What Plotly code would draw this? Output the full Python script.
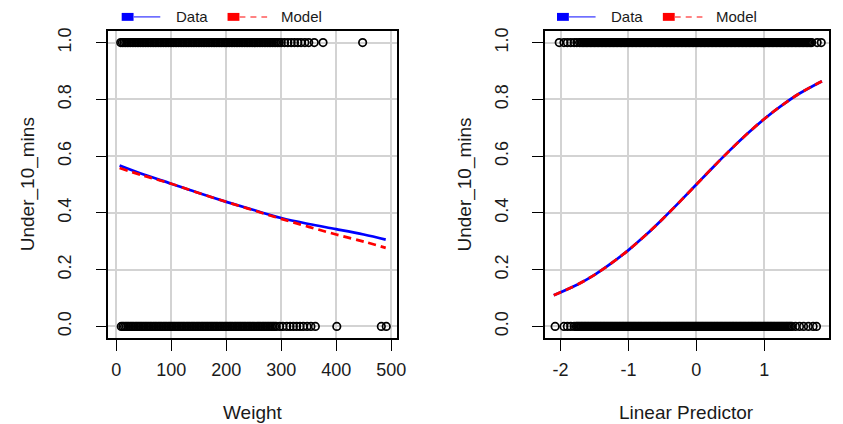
import plotly.graph_objects as go

# ---------------- data ----------------
# Left panel: Weight vs Under_10_mins (observations at 1 and 0)
weight_pass = [8, 11, 14, 17, 20, 23, 26, 29, 32, 35, 38, 41, 44, 47, 50, 53, 56, 59, 62, 65, 68, 71, 74, 77, 80,
               83, 86, 89, 92, 95, 98, 101, 104, 107, 110, 113, 116, 119, 122, 125, 128, 131, 134, 137, 140, 143,
               146, 149, 152, 155, 158, 161, 164, 167, 170, 173, 176, 179, 182, 185, 188, 191, 194, 197, 200, 203,
               206, 209, 212, 215, 218, 221, 224, 227, 230, 233, 236, 239, 242, 245, 248, 251, 254, 257, 260, 263,
               266, 269, 272, 275, 278, 281, 284, 287, 290, 293, 296,
               300, 306, 312, 318, 324, 330, 336, 343, 350, 360, 376, 448]
weight_fail = [9, 12, 15, 18, 21, 24, 27, 30, 33, 36, 39, 42, 45, 48, 51, 54, 57, 60, 63, 66, 69, 72, 75, 78, 81,
               84, 87, 90, 93, 96, 99, 102, 105, 108, 111, 114, 117, 120, 123, 126, 129, 132, 135, 138, 141, 144,
               147, 150, 153, 156, 159, 162, 165, 168, 171, 174, 177, 180, 183, 186, 189, 192, 195, 198, 201, 204,
               207, 210, 213, 216, 219, 222, 225, 228, 231, 234, 237, 240, 243, 246, 249, 252, 255, 258, 261, 264,
               267, 270, 273, 276, 279, 282, 285, 288, 291,
               297, 303, 310, 316, 322, 328, 334, 340, 347, 354, 362, 401, 482, 491]

# Left panel fitted curves
fit_weight = [6, 50, 100, 150, 200, 250, 300, 350, 400, 450, 490]
fit_weight_data = [0.567, 0.535, 0.503, 0.470, 0.439, 0.410, 0.382, 0.361, 0.343, 0.324, 0.306]
fit_weight_model = [0.558, 0.531, 0.503, 0.470, 0.439, 0.409, 0.379, 0.351, 0.324, 0.299, 0.277]

# Right panel: Linear Predictor vs Under_10_mins
lp_pass = [-2.02, -1.95, -1.90, -1.85, -1.80, -1.76, -1.72,
           -1.70, -1.68, -1.66, -1.64, -1.62, -1.60, -1.58, -1.56, -1.54, -1.52,
           -1.50, -1.48, -1.46, -1.44, -1.42, -1.40, -1.38, -1.36, -1.34, -1.32,
           -1.30, -1.28, -1.26, -1.24, -1.22, -1.20, -1.18, -1.16, -1.14, -1.12,
           -1.10, -1.08, -1.06, -1.04, -1.02, -1.00, -0.98, -0.96, -0.94, -0.92,
           -0.90, -0.88, -0.86, -0.84, -0.82, -0.80, -0.78, -0.76, -0.74, -0.72,
           -0.70, -0.68, -0.66, -0.64, -0.62, -0.60, -0.58, -0.56, -0.54, -0.52,
           -0.50, -0.48, -0.46, -0.44, -0.42, -0.40, -0.38, -0.36, -0.34, -0.32,
           -0.30, -0.28, -0.26, -0.24, -0.22, -0.20, -0.18, -0.16, -0.14, -0.12,
           -0.10, -0.08, -0.06, -0.04, -0.02, 0.00, 0.02, 0.04, 0.06, 0.08,
           0.10, 0.12, 0.14, 0.16, 0.18, 0.20, 0.22, 0.24, 0.26, 0.28,
           0.30, 0.32, 0.34, 0.36, 0.38, 0.40, 0.42, 0.44, 0.46, 0.48,
           0.50, 0.52, 0.54, 0.56, 0.58, 0.60, 0.62, 0.64, 0.66, 0.68,
           0.70, 0.72, 0.74, 0.76, 0.78, 0.80, 0.82, 0.84, 0.86, 0.88,
           0.90, 0.92, 0.94, 0.96, 0.98, 1.00, 1.02, 1.04, 1.06, 1.08,
           1.10, 1.12, 1.14, 1.16, 1.18, 1.20, 1.22, 1.24, 1.26, 1.28,
           1.30, 1.32, 1.34, 1.36, 1.38, 1.40, 1.42, 1.44, 1.46, 1.48,
           1.50, 1.52, 1.54, 1.56, 1.58, 1.60, 1.62, 1.64, 1.66, 1.68, 1.70,
           1.78, 1.84]
lp_fail = [-2.08, -1.95, -1.90, -1.85, -1.80,
           -1.77, -1.75, -1.73, -1.71, -1.69, -1.67, -1.65, -1.63, -1.61, -1.59,
           -1.57, -1.55, -1.53, -1.51, -1.49, -1.47, -1.45, -1.43, -1.41, -1.39,
           -1.37, -1.35, -1.33, -1.31, -1.29, -1.27, -1.25, -1.23, -1.21, -1.19,
           -1.17, -1.15, -1.13, -1.11, -1.09, -1.07, -1.05, -1.03, -1.01, -0.99,
           -0.97, -0.95, -0.93, -0.91, -0.89, -0.87, -0.85, -0.83, -0.81, -0.79,
           -0.77, -0.75, -0.73, -0.71, -0.69, -0.67, -0.65, -0.63, -0.61, -0.59,
           -0.57, -0.55, -0.53, -0.51, -0.49, -0.47, -0.45, -0.43, -0.41, -0.39,
           -0.37, -0.35, -0.33, -0.31, -0.29, -0.27, -0.25, -0.23, -0.21, -0.19,
           -0.17, -0.15, -0.13, -0.11, -0.09, -0.07, -0.05, -0.03, -0.01, 0.01,
           0.03, 0.05, 0.07, 0.09, 0.11, 0.13, 0.15, 0.17, 0.19, 0.21,
           0.23, 0.25, 0.27, 0.29, 0.31, 0.33, 0.35, 0.37, 0.39, 0.41,
           0.43, 0.45, 0.47, 0.49, 0.51, 0.53, 0.55, 0.57, 0.59, 0.61,
           0.63, 0.65, 0.67, 0.69, 0.71, 0.73, 0.75, 0.77, 0.79, 0.81,
           0.83, 0.85, 0.87, 0.89, 0.91, 0.93, 0.95, 0.97, 0.99, 1.01,
           1.03, 1.05, 1.07, 1.09, 1.11, 1.13, 1.15, 1.17, 1.19, 1.21,
           1.23, 1.25, 1.27, 1.29, 1.31, 1.33, 1.35, 1.37, 1.39, 1.41,
           1.46, 1.52, 1.58, 1.65, 1.72, 1.77]

fit_lp = [-2.1, -1.75, -1.5, -1.25, -1.0, -0.75, -0.5, -0.25, 0.0, 0.25, 0.5, 0.75, 1.0, 1.25, 1.5, 1.85]
fit_lp_data = [0.110, 0.148, 0.182, 0.223, 0.269, 0.321, 0.378, 0.438, 0.500, 0.562, 0.622, 0.679, 0.731,
               0.777, 0.818, 0.864]
fit_lp_model = [0.110, 0.148, 0.182, 0.223, 0.269, 0.321, 0.378, 0.438, 0.500, 0.562, 0.622, 0.679, 0.731,
                0.777, 0.818, 0.864]

x_ticks_left = [0, 100, 200, 300, 400, 500]
x_ticks_right = [-2, -1, 0, 1]
y_ticks = [0.0, 0.2, 0.4, 0.6, 0.8, 1.0]
y_ticktext = ["0.0", "0.2", "0.4", "0.6", "0.8", "1.0"]

# ---------------- figure ----------------
W, H = 843, 424
FONT = "Liberation Sans, Arial, sans-serif"


def fx(p):
    return p / W


def fy(p):
    return 1 - p / H


fig = go.Figure()

marker = dict(symbol="circle-open", size=7.5, color="black", line=dict(width=1.7))
BLUE = "#0000ff"
RED = "#ff0000"

panels = [
    (weight_pass, weight_fail, fit_weight, fit_weight_data, fit_weight_model, "x", "y"),
    (lp_pass, lp_fail, fit_lp, fit_lp_data, fit_lp_model, "x2", "y2"),
]
for xp, xf, fxv, fd, fm, xa, ya in panels:
    fig.add_trace(go.Scatter(x=xp, y=[1] * len(xp), mode="markers", marker=marker,
                             xaxis=xa, yaxis=ya, showlegend=False, hoverinfo="skip"))
    fig.add_trace(go.Scatter(x=xf, y=[0] * len(xf), mode="markers", marker=marker,
                             xaxis=xa, yaxis=ya, showlegend=False, hoverinfo="skip"))
    fig.add_trace(go.Scatter(x=fxv, y=fd, mode="lines", line=dict(color=BLUE, width=2.7, shape="spline"),
                             xaxis=xa, yaxis=ya, showlegend=False))
    fig.add_trace(go.Scatter(x=fxv, y=fm, mode="lines",
                             line=dict(color=RED, width=2.7, dash="8px,5px", shape="spline"),
                             xaxis=xa, yaxis=ya, showlegend=False))

box_top, box_bot = 27.5, 337.0
common_x = dict(ticks="outside", ticklen=11, tickwidth=1, tickcolor="black",
                showline=True, linecolor="black", linewidth=1.5, mirror=True,
                showgrid=True, gridcolor="#d3d3d3", gridwidth=1.5, zeroline=False,
                tickfont=dict(family=FONT, size=18, color="#1a1a1a"), ticklabelstandoff=4)
common_y = dict(ticks="outside", ticklen=11, tickwidth=1, tickcolor="black",
                showline=True, linecolor="black", linewidth=1.5, mirror=True,
                showgrid=True, gridcolor="#d3d3d3", gridwidth=1.5, zeroline=False,
                tickfont=dict(family=FONT, size=18, color="#1a1a1a"), tickangle=-90,
                ticklabelstandoff=17, range=[-0.04, 1.04], tickvals=y_ticks, ticktext=y_ticktext,
                domain=[fy(box_bot), fy(box_top)])

fig.update_layout(
    width=W, height=H, margin=dict(l=0, r=0, t=0, b=0),
    paper_bgcolor="white", plot_bgcolor="white",
    xaxis=dict(common_x, domain=[fx(109.5), fx(401)], range=[-14.5, 510], tickvals=x_ticks_left, anchor="y"),
    yaxis=dict(common_y, anchor="x"),
    xaxis2=dict(common_x, domain=[fx(550.5), fx(838)], range=[-2.235, 1.955], tickvals=x_ticks_right,
                ticktext=["-2", "-1", "0", "1"], anchor="y2"),
    yaxis2=dict(common_y, anchor="x2"),
    showlegend=False,
)

annotations = []
shapes = []
# axis titles
for cx, txt in [((109.5 + 401) / 2, "Weight"), ((550.5 + 838) / 2, "Linear Predictor")]:
    annotations.append(dict(x=fx(cx), y=fy(412), xref="paper", yref="paper", text=txt, showarrow=False,
                            xanchor="center", yanchor="middle", font=dict(family=FONT, size=19, color="#1a1a1a")))
for cx in [28, 470]:
    annotations.append(dict(x=fx(cx), y=fy((box_top + box_bot) / 2), xref="paper", yref="paper",
                            text="Under_10_mins", textangle=-90, showarrow=False, xanchor="center",
                            yanchor="middle", font=dict(family=FONT, size=19, color="#1a1a1a")))

# legends (top of each panel)
for x0 in [123, 563]:
    # Data
    shapes.append(dict(type="rect", xref="paper", yref="paper", x0=fx(x0), x1=fx(x0 + 12), y0=fy(17), y1=fy(9),
                       fillcolor=BLUE, line=dict(width=0)))
    shapes.append(dict(type="line", xref="paper", yref="paper", x0=fx(x0 + 12), x1=fx(x0 + 39), y0=fy(13),
                       y1=fy(13), line=dict(color="#5a5aff", width=1.5)))
    annotations.append(dict(x=fx(x0 + 53), y=fy(13), xref="paper", yref="paper", text="Data", showarrow=False,
                            xanchor="left", yanchor="middle", font=dict(family=FONT, size=15, color="#1a1a1a")))
    # Model
    shapes.append(dict(type="rect", xref="paper", yref="paper", x0=fx(x0 + 107), x1=fx(x0 + 119), y0=fy(17),
                       y1=fy(9), fillcolor=RED, line=dict(width=0)))
    shapes.append(dict(type="line", xref="paper", yref="paper", x0=fx(x0 + 119), x1=fx(x0 + 147), y0=fy(13),
                       y1=fy(13), line=dict(color="#ff5a5a", width=1.5, dash="6px,5px")))
    annotations.append(dict(x=fx(x0 + 159), y=fy(13), xref="paper", yref="paper", text="Model", showarrow=False,
                            xanchor="left", yanchor="middle", font=dict(family=FONT, size=15, color="#1a1a1a")))

fig.update_layout(annotations=annotations, shapes=shapes)

fig.write_html("out.html")
